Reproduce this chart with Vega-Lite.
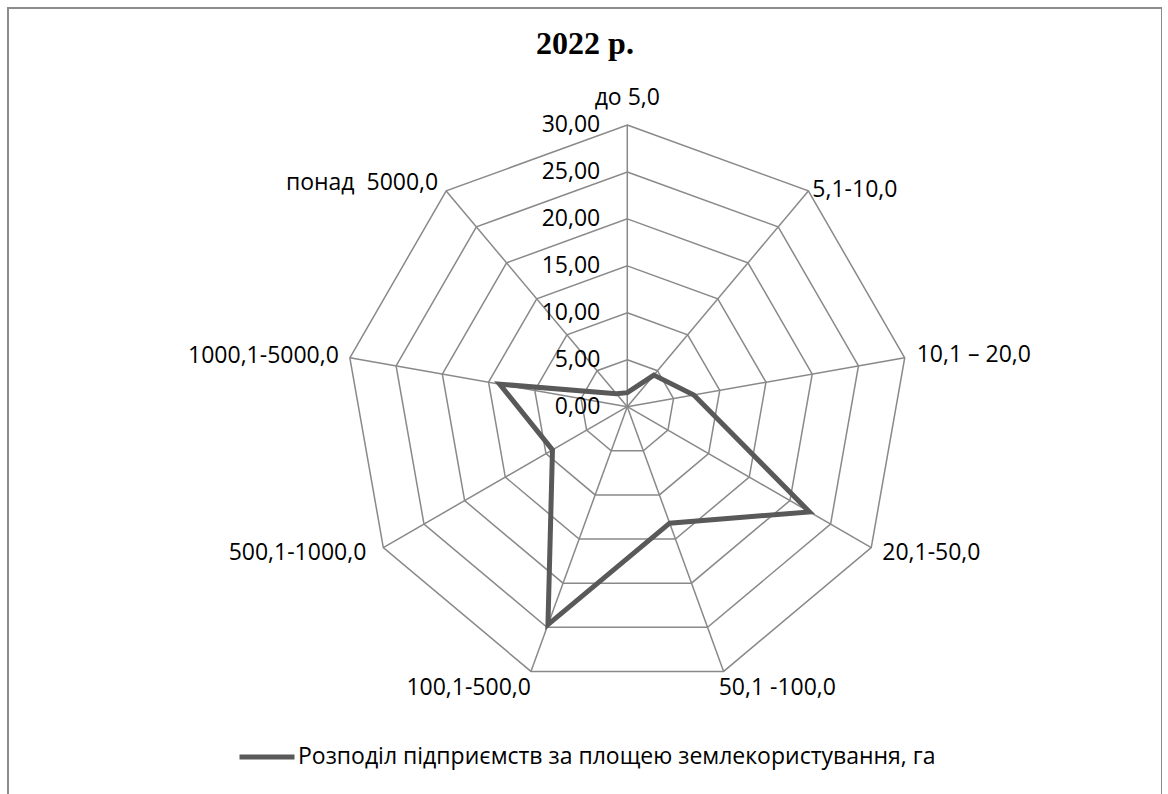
{
  "$schema": "https://vega.github.io/schema/vega-lite/v6.json",
  "width": 1154,
  "height": 800,
  "autosize": {"type": "none"},
  "padding": {"left": 8, "top": 8, "right": 0, "bottom": 0},
  "background": "white",
  "config": {
    "view": {"stroke": "#8c8c8c", "strokeWidth": 2},
    "locale": {"number": {"decimal": ",", "thousands": " ", "grouping": [3], "currency": ["", ""]}}
  },
  "title": {
    "text": "2022 р.",
    "font": "Liberation Serif",
    "fontSize": 32,
    "fontWeight": "bold",
    "color": "black",
    "anchor": "middle",
    "frame": "group",
    "baseline": "alphabetic",
    "offset": -50,
    "dy": 28
  },
  "datasets": {
    "cats": [
      {"cat": "до 5,0", "i": 0, "value": 1.5},
      {"cat": "5,1-10,0", "i": 1, "value": 4.4},
      {"cat": "10,1 – 20,0", "i": 2, "value": 7.2},
      {"cat": "20,1-50,0", "i": 3, "value": 22.4},
      {"cat": "50,1 -100,0", "i": 4, "value": 13.2},
      {"cat": "100,1-500,0", "i": 5, "value": 24.7},
      {"cat": "500,1-1000,0", "i": 6, "value": 9.2},
      {"cat": "1000,1-5000,0", "i": 7, "value": 13.8},
      {"cat": "понад \u00a05000,0", "i": 8, "value": 1.8}
    ],
    "levels": [
      {"level": 0}, {"level": 5}, {"level": 10}, {"level": 15}, {"level": 20}, {"level": 25}, {"level": 30}
    ],
    "grid": [
      {"level": 5, "i": 0}, {"level": 5, "i": 1}, {"level": 5, "i": 2}, {"level": 5, "i": 3}, {"level": 5, "i": 4}, {"level": 5, "i": 5}, {"level": 5, "i": 6}, {"level": 5, "i": 7}, {"level": 5, "i": 8},
      {"level": 10, "i": 0}, {"level": 10, "i": 1}, {"level": 10, "i": 2}, {"level": 10, "i": 3}, {"level": 10, "i": 4}, {"level": 10, "i": 5}, {"level": 10, "i": 6}, {"level": 10, "i": 7}, {"level": 10, "i": 8},
      {"level": 15, "i": 0}, {"level": 15, "i": 1}, {"level": 15, "i": 2}, {"level": 15, "i": 3}, {"level": 15, "i": 4}, {"level": 15, "i": 5}, {"level": 15, "i": 6}, {"level": 15, "i": 7}, {"level": 15, "i": 8},
      {"level": 20, "i": 0}, {"level": 20, "i": 1}, {"level": 20, "i": 2}, {"level": 20, "i": 3}, {"level": 20, "i": 4}, {"level": 20, "i": 5}, {"level": 20, "i": 6}, {"level": 20, "i": 7}, {"level": 20, "i": 8},
      {"level": 25, "i": 0}, {"level": 25, "i": 1}, {"level": 25, "i": 2}, {"level": 25, "i": 3}, {"level": 25, "i": 4}, {"level": 25, "i": 5}, {"level": 25, "i": 6}, {"level": 25, "i": 7}, {"level": 25, "i": 8},
      {"level": 30, "i": 0}, {"level": 30, "i": 1}, {"level": 30, "i": 2}, {"level": 30, "i": 3}, {"level": 30, "i": 4}, {"level": 30, "i": 5}, {"level": 30, "i": 6}, {"level": 30, "i": 7}, {"level": 30, "i": 8}
    ]
  },
  "layer": [
    {
      "data": {"name": "grid"},
      "transform": [
        {"calculate": "datum.i * 2 * PI / 9", "as": "a"},
        {"calculate": "datum.level * sin(datum.a)", "as": "gx"},
        {"calculate": "datum.level * cos(datum.a)", "as": "gy"}
      ],
      "mark": {"type": "line", "interpolate": "linear-closed", "stroke": "#898989", "strokeWidth": 1.5},
      "encoding": {
        "x": {"field": "gx", "type": "quantitative", "scale": {"domain": [-65.95, 56.945], "nice": false, "zero": false}, "axis": null},
        "y": {"field": "gy", "type": "quantitative", "scale": {"domain": [-42.737, 42.46], "nice": false, "zero": false}, "axis": null},
        "detail": {"field": "level", "type": "nominal"},
        "order": {"field": "i", "type": "quantitative"}
      }
    },
    {
      "data": {"name": "cats"},
      "transform": [
        {"calculate": "datum.i * 2 * PI / 9", "as": "a"},
        {"calculate": "30 * sin(datum.a)", "as": "sx"},
        {"calculate": "30 * cos(datum.a)", "as": "sy"}
      ],
      "mark": {"type": "rule", "stroke": "#898989", "strokeWidth": 1.5},
      "encoding": {
        "x": {"field": "sx", "type": "quantitative"},
        "y": {"field": "sy", "type": "quantitative"},
        "x2": {"datum": 0},
        "y2": {"datum": 0}
      }
    },
    {
      "data": {"name": "cats"},
      "transform": [
        {"calculate": "datum.i * 2 * PI / 9", "as": "a"},
        {"calculate": "datum.value * sin(datum.a)", "as": "px"},
        {"calculate": "datum.value * cos(datum.a)", "as": "py"}
      ],
      "mark": {"type": "line", "interpolate": "linear-closed", "strokeWidth": 5},
      "encoding": {
        "x": {"field": "px", "type": "quantitative"},
        "y": {"field": "py", "type": "quantitative"},
        "order": {"field": "i", "type": "quantitative"},
        "color": {
          "datum": "Розподіл підприємств за площею землекористування, га",
          "type": "nominal",
          "scale": {"range": ["#595959"]},
          "legend": {
            "orient": "none",
            "legendX": 229,
            "legendY": 719,
            "title": null,
            "padding": 0,
            "symbolType": "stroke",
            "symbolSize": 3025,
            "symbolStrokeWidth": 5,
            "labelFont": "Open Sans",
            "labelFontSize": 23,
            "labelColor": "black",
            "labelLimit": 2000,
            "labelOffset": 1
          }
        }
      }
    },
    {
      "data": {"name": "levels"},
      "mark": {"type": "text", "align": "right", "baseline": "middle", "dx": -27, "font": "Open Sans", "fontSize": 23, "color": "black"},
      "encoding": {
        "x": {"datum": 0, "type": "quantitative"},
        "y": {"field": "level", "type": "quantitative"},
        "text": {"field": "level", "type": "quantitative", "format": ".2f"}
      }
    },
    {
      "data": {"name": "cats"},
      "transform": [
        {"calculate": "datum.i * 2 * PI / 9", "as": "a"},
        {"calculate": "30 * sin(datum.a)", "as": "lx"},
        {"calculate": "30 * cos(datum.a)", "as": "ly"}
      ],
      "mark": {
        "type": "text",
        "baseline": "middle",
        "font": "Open Sans",
        "fontSize": 23,
        "color": "black",
        "align": {"expr": "datum.i == 0 ? 'center' : (datum.i < 5 ? 'left' : 'right')"},
        "dx": {"expr": "[0, 4, 12, 11, -5, 0, -17, -11, -8][datum.i]"},
        "dy": {"expr": "[-27, -1, -3, 5, 17, 17, 5, -2, -8][datum.i]"}
      },
      "encoding": {
        "x": {"field": "lx", "type": "quantitative"},
        "y": {"field": "ly", "type": "quantitative"},
        "text": {"field": "cat", "type": "nominal"}
      }
    }
  ]
}
